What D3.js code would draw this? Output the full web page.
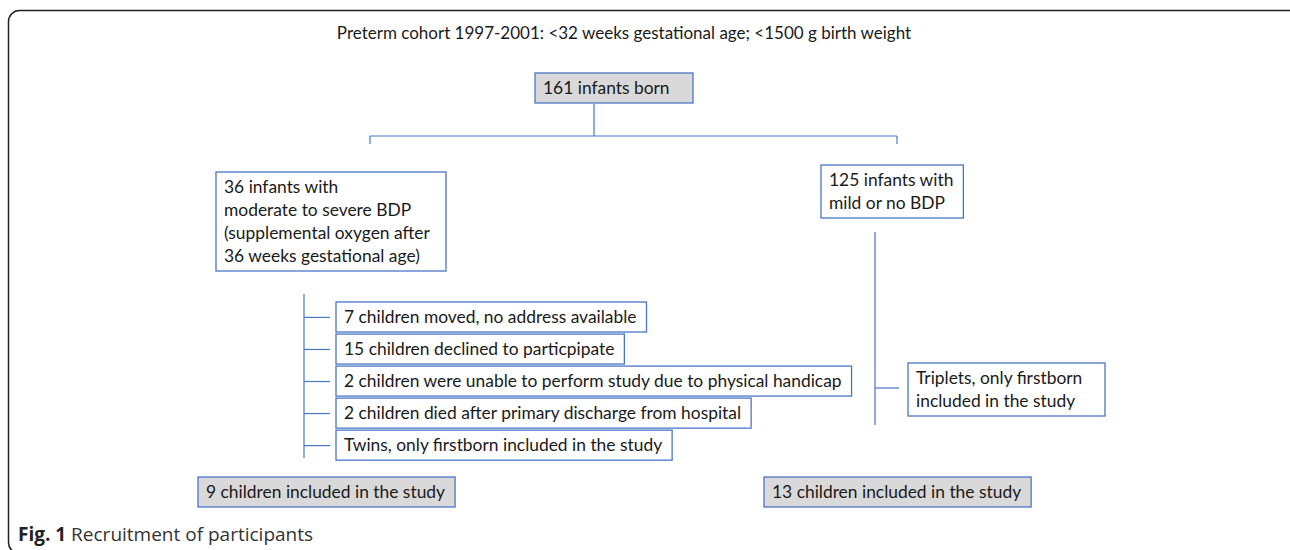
<!DOCTYPE html>
<html>
<head>
<meta charset="utf-8">
<script src="https://cdn.jsdelivr.net/npm/d3@7"></script>
<style>
  body { margin: 0; background: #fff; }
  text { font-family: Lato, "Noto Sans", sans-serif; fill: #1a1a1a; }
</style>
</head>
<body>
<svg id="chart" width="1290" height="550"></svg>
<script>
const title = "Preterm cohort 1997-2001: <32 weeks gestational age; <1500 g birth weight";
const rootLabel = ["161 infants born"];
const branchLabels = [
  ["36 infants with", "moderate to severe BDP", "(supplemental oxygen after", "36 weeks gestational age)"],
  ["125 infants with", "mild or no BDP"]
];
const leftExclusions = [
  "7 children moved, no address available",
  "15 children declined to particpipate",
  "2 children were unable to perform study due to physical handicap",
  "2 children died after primary discharge from hospital",
  "Twins, only firstborn included in the study"
];
const rightExclusions = [["Triplets, only firstborn", "included in the study"]];
const includedLabels = ["9 children included in the study", "13 children included in the study"];
const captionBold = "Fig. 1";
const captionText = " Recruitment of participants";

const blue = "#4a76c6";
const grey = "#d9d9d9";
const fontSize = 17.4;
const lineH = 23;
const padX = 8;

const svg = d3.select("#chart");

// outer frame, runs off the right and bottom edges
svg.append("rect")
  .attr("x", 8.5).attr("y", 10.5)
  .attr("width", 1300).attr("height", 543)
  .attr("rx", 11)
  .attr("fill", "none")
  .attr("stroke", "#222")
  .attr("stroke-width", 1.5);

svg.append("text")
  .attr("x", 624).attr("y", 39)
  .attr("text-anchor", "middle")
  .attr("font-size", 17)
  .text(title);

function box(x, y, lines, fill, width) {
  const g = svg.append("g").attr("transform", `translate(${x},${y})`);
  const rect = g.append("rect").attr("fill", fill || "#fff")
    .attr("stroke", blue).attr("stroke-width", 1.3);
  const t = g.selectAll("text").data(lines).join("text")
    .attr("x", padX)
    .attr("y", (d, i) => 20.5 + i * lineH)
    .attr("font-size", fontSize)
    .text(d => d);
  const fit = d3.max(t.nodes(), n => n.getComputedTextLength()) + padX * 2 + 2;
  const w = Math.max(width || 0, fit);
  rect.attr("width", w).attr("height", lines.length * lineH + 7);
  return g;
}

function line(x1, y1, x2, y2) {
  svg.append("line")
    .attr("x1", x1).attr("y1", y1).attr("x2", x2).attr("y2", y2)
    .attr("stroke", blue).attr("stroke-width", 1.2);
}

// root and split
box(535, 73, rootLabel, grey, 158);
line(594, 104, 594, 136);
const branchX = d3.scalePoint().domain([0, 1]).range([370, 897]);
line(branchX(0), 136, branchX(1), 136);
[0, 1].forEach(i => line(branchX(i), 136, branchX(i), 144));

// branch boxes
box(216, 172, branchLabels[0], "#fff", 230);
box(821, 165, branchLabels[1], "#fff", 138);

// left exclusions
const exY = d3.scaleBand()
  .domain(d3.range(leftExclusions.length))
  .range([302, 459])
  .paddingInner(0.1);
line(304, 294, 304, 458);
leftExclusions.forEach((d, i) => {
  box(336, exY(i), [d], "#fff");
  line(304, exY(i) + exY.bandwidth() / 2 + 1, 330, exY(i) + exY.bandwidth() / 2 + 1);
});

// right exclusions
line(875, 232, 875, 425);
rightExclusions.forEach((d, i) => {
  box(908, 363 + i * 60, d, "#fff", 197);
  line(875, 388 + i * 60, 899, 388 + i * 60);
});

// included
box(198, 477, [includedLabels[0]], grey, 248);
box(764, 477, [includedLabels[1]], grey, 264);

// caption
const cap = svg.append("text")
  .attr("x", 18).attr("y", 541)
  .style("font-family", "'Open Sans', sans-serif")
  .style("font-size", "19px");
cap.append("tspan").attr("font-weight", "bold").style("fill", "#222").text(captionBold);
cap.append("tspan").style("fill", "#333").text(captionText);
</script>
</body>
</html>
